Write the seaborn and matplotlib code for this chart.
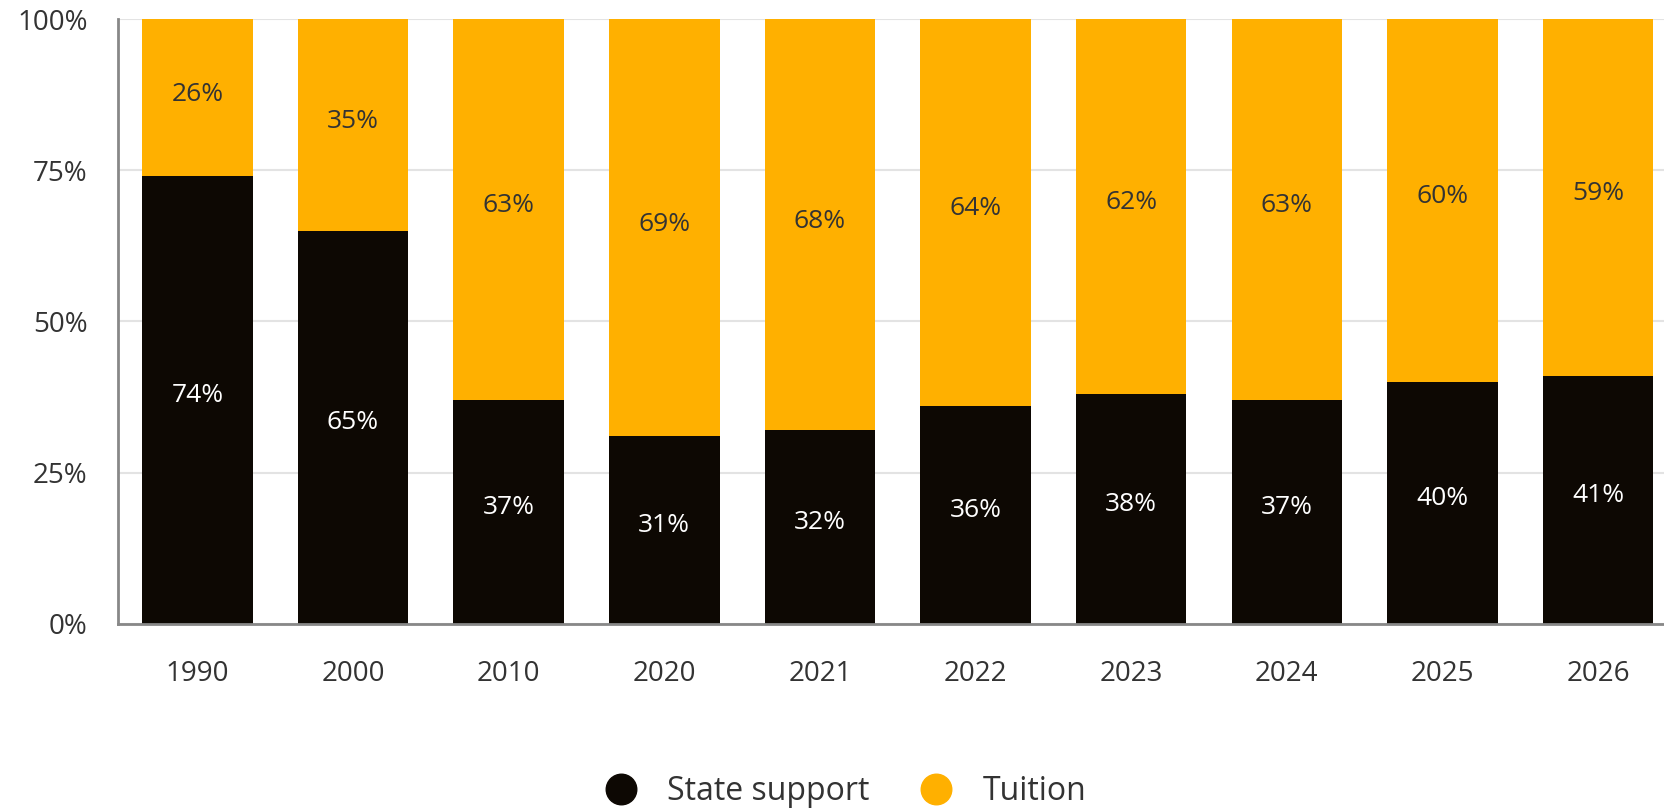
import matplotlib
matplotlib.use("Agg")
import matplotlib.pyplot as plt
import seaborn as sns
import pandas as pd
from matplotlib.lines import Line2D
from matplotlib.ticker import FuncFormatter

years = ["1990", "2000", "2010", "2020", "2021", "2022", "2023", "2024", "2025", "2026"]
state_support = [74, 65, 37, 31, 32, 36, 38, 37, 40, 41]
tuition = [26, 35, 63, 69, 68, 64, 62, 63, 60, 59]

BLACK = "#0d0803"
GOLD = "#ffb000"
TEXT = "#333333"

sns.set_theme(style="white")
plt.rcParams["font.family"] = ["Open Sans", "DejaVu Sans"]

df = pd.DataFrame({"year": years, "state": state_support, "tuition": tuition})
df["total"] = df["state"] + df["tuition"]

fig = plt.figure(figsize=(16.65, 8.09), dpi=100)
ax = fig.add_axes([0.0709, 0.2287, 0.9291, 0.7478])

sns.barplot(data=df, x="year", y="total", color=GOLD, width=0.71,
            saturation=1, linewidth=0, ax=ax, zorder=2)
sns.barplot(data=df, x="year", y="state", color=BLACK, width=0.71,
            saturation=1, linewidth=0, ax=ax, zorder=3)

# labels sit roughly in the middle of each segment
for i, row in df.iterrows():
    ax.text(i, row["state"] / 2 + 0.8, f"{row['state']}%", ha="center", va="center",
            color="white", fontsize=19, zorder=4)
    ax.text(i, row["state"] + row["tuition"] / 2 + 0.6, f"{row['tuition']}%",
            ha="center", va="center", color=TEXT, fontsize=19, zorder=4)

ax.set_ylim(0, 100)
ax.set_xlim(-0.51, len(years) - 0.57)
ax.set_yticks([0, 25, 50, 75, 100])
ax.yaxis.set_major_formatter(FuncFormatter(lambda v, p: f"{int(v)}%"))
ax.yaxis.grid(True, color="#e3e3e3", linewidth=1.5, zorder=0)
ax.set_axisbelow(True)
ax.set_xlabel("")
ax.set_ylabel("")
ax.tick_params(axis="x", length=0, pad=26, labelsize=20, labelcolor=TEXT)
ax.tick_params(axis="y", length=0, pad=22, labelsize=20, labelcolor=TEXT)

for side in ["top", "right"]:
    ax.spines[side].set_visible(False)
for side in ["left", "bottom"]:
    ax.spines[side].set_color("#888888")
    ax.spines[side].set_linewidth(2)
    ax.spines[side].set_zorder(5)

handles = [
    Line2D([], [], marker="o", linestyle="", markersize=22, color=BLACK, label="State support"),
    Line2D([], [], marker="o", linestyle="", markersize=22, color=GOLD, label="Tuition"),
]
leg = fig.legend(handles=handles, loc="center", bbox_to_anchor=(0.503, 0.022),
                 ncol=2, frameon=False, fontsize=23, handletextpad=0.45,
                 columnspacing=1.1)
for t in leg.get_texts():
    t.set_color(TEXT)

fig.savefig("out.png", dpi=100)
